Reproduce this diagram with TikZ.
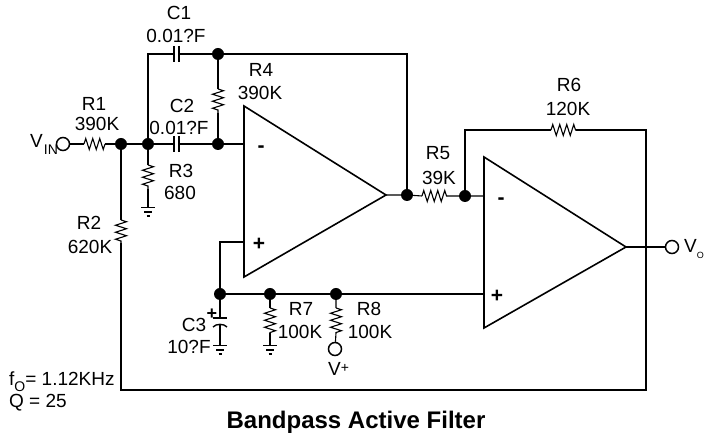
\documentclass[tikz,border=0pt]{standalone}
\usepackage{fontspec}
\setmainfont{Liberation Sans}
\usetikzlibrary{decorations.pathmorphing,calc}
\newcommand{\sbs}[2]{\raisebox{#1pt}{\fontsize{14}{14}\selectfont #2}}
\tikzset{
  x=1pt,y=-1pt,
  wire/.style={line width=1.1pt,line join=miter},
  amp/.style={line width=1.6pt,line join=miter},
  resistor/.style={line width=1.1pt,decorate,decoration={zigzag,amplitude=5.5pt,segment length=7pt}},
  dot/.style={circle,fill=black,inner sep=0pt,minimum size=12pt},
  term/.style={circle,draw=black,fill=white,line width=1.5pt,inner sep=0pt,minimum size=13pt},
  lbl/.style={font=\fontsize{19}{21}\selectfont,inner sep=0pt,align=center},
  sgn/.style={font=\bfseries\fontsize{21}{22}\selectfont,inner sep=0pt},
  plate/.style={line width=1.4pt},
}
\begin{document}
\begin{tikzpicture}
\useasboundingbox (0,0) rectangle (705,435);
% junctions
\node[dot] (jt) at (218,54) {};
\node[dot] (jm) at (218,144) {};
\node[dot] (j1) at (121,144) {};
\node[dot] (j2) at (148,144) {};
\node[dot] (jo) at (407,195) {};
\node[dot] (ji) at (465,196) {};
\node[dot] (jp) at (220,294) {};
\node[dot] (j7) at (270,294) {};
\node[dot] (j8) at (336,294) {};
% terminals
\node[term] (vin) at (63,144) {};
\node[term] (vout) at (672,247) {};
\node[term] (vp) at (335,349) {};
% op amps
\coordinate (a1t) at (244,106); \coordinate (a1b) at (244,277); \coordinate (a1o) at (386,195);
\coordinate (a1m) at (244,144); \coordinate (a1p) at (244,242);
\coordinate (a2t) at (484,157); \coordinate (a2b) at (484,328); \coordinate (a2o) at (626,247);
\coordinate (a2m) at (484,196); \coordinate (a2p) at (484,294);
\draw[amp,fill=white] (a1t) -- (a1o) -- (a1b) -- cycle;
\draw[amp,fill=white] (a2t) -- (a2o) -- (a2b) -- cycle;
\node[sgn] at (261,149) {-};
\node[sgn] at (259,244) {+};
\node[sgn] at (501,201) {-};
\node[sgn] at (497,296) {+};
% C1 and top wire
\coordinate (ctl) at (148,54);
\coordinate (c1a) at (174,54); \coordinate (c1b) at (179,54);
\coordinate (ctr) at (407,54);
\draw[wire] (j2) -- (ctl) -- (c1a);
\draw[wire] (c1b) -- (jt) -- (ctr) -- (jo);
\draw[plate] (174,46) -- (174,62) (179,46) -- (179,62);
% R4
\coordinate (r4a) at (218,89); \coordinate (r4b) at (218,113);
\draw[wire] (jt) -- (r4a) (r4b) -- (jm);
\draw[resistor] (r4a) -- (r4b);
% input, R1
\coordinate (r1a) at (84,144); \coordinate (r1b) at (105,144);
\draw[wire] (vin) -- (r1a) (r1b) -- (j1) -- (j2);
\draw[resistor] (r1a) -- (r1b);
% C2
\coordinate (c2a) at (174,144); \coordinate (c2b) at (179,144);
\draw[wire] (j2) -- (c2a) (c2b) -- (jm) -- (a1m);
\draw[plate] (174,136) -- (174,152) (179,136) -- (179,152);
% R3 + ground
\coordinate (r3a) at (148,165); \coordinate (r3b) at (148,189); \coordinate (g3) at (148,207);
\draw[wire] (j2) -- (r3a) (r3b) -- (g3);
\draw[resistor] (r3a) -- (r3b);
\draw[wire] (141,207.5) -- (155,207.5) (144,212) -- (152,212) (146.5,216) -- (149.5,216);
% R2 and bottom feedback
\coordinate (r2a) at (121,220); \coordinate (r2b) at (121,243);
\coordinate (bl) at (121,390); \coordinate (br) at (646,390); \coordinate (tr) at (646,130); \coordinate (tl) at (465,130);
\coordinate (r6a) at (551,130); \coordinate (r6b) at (576,130);
\draw[wire] (j1) -- (r2a) (r2b) -- (bl) -- (br) -- (tr) -- (r6b) (r6a) -- (tl) -- (ji);
\draw[resistor] (r2a) -- (r2b);
\draw[resistor] (r6a) -- (r6b);
% R5
\coordinate (r5a) at (422,196); \coordinate (r5b) at (447,196);
\draw[wire] (a1o) -- (jo) -- (r5a) (r5b) -- (ji) -- (a2m);
\draw[resistor] (r5a) -- (r5b);
% output
\draw[wire] (a2o) -- (vout);
% + inputs
\coordinate (pc) at (220,242);
\draw[wire] (a1p) -- (pc) -- (jp) -- (j7) -- (j8) -- (a2p);
% C3
\coordinate (c3a) at (220,318); \coordinate (c3b) at (220,324); \coordinate (g5) at (220,345);
\draw[wire] (jp) -- (c3a) (c3b) -- (g5);
\draw[plate] (213,318) -- (227,318);
\draw[plate] (213,327) .. controls (216,323.5) and (224,323.5) .. (227,327);
\draw[wire] (213,345.5) -- (227,345.5) (216,350) -- (224,350) (218.5,354) -- (221.5,354);
\node[sgn,font=\bfseries\fontsize{18}{18}\selectfont] at (212,314) {+};
% R7
\coordinate (r7a) at (270,308); \coordinate (r7b) at (270,333); \coordinate (g7) at (270,345);
\draw[wire] (j7) -- (r7a) (r7b) -- (g7);
\draw[resistor] (r7a) -- (r7b);
\draw[wire] (263,345.5) -- (277,345.5) (266,350) -- (274,350) (268.5,354) -- (271.5,354);
% R8
\coordinate (r8a) at (336,308); \coordinate (r8b) at (336,333);
\draw[wire] (j8) -- (r8a) (r8b) -- (vp);
\draw[resistor] (r8a) -- (r8b);
% labels
\node[lbl] (lc1) at (179,13) {C1};
\node[lbl] (lc1v) at (176,36) {0.01?F};
\node[lbl] (lr4) at (261,70) {R4};
\node[lbl] (lr4v) at (260,93) {390K};
\node[lbl] (lr1) at (94,104) {R1};
\node[lbl] (lr1v) at (97,124) {390K};
\node[lbl] (lc2) at (182,106) {C2};
\node[lbl] (lc2v) at (179,128) {0.01?F};
\node[lbl] (lr3) at (181,171) {R3};
\node[lbl] (lr3v) at (180,193) {680};
\node[lbl] (lr2) at (89,223) {R2};
\node[lbl] (lr2v) at (90,247) {620K};
\node[lbl] (lr5) at (438,153) {R5};
\node[lbl] (lr5v) at (439,178) {39K};
\node[lbl] (lr6) at (569,85) {R6};
\node[lbl] (lr6v) at (568,109) {120K};
\node[lbl] (lc3) at (194,325) {C3};
\node[lbl] (lc3v) at (189,347) {10?F};
\node[lbl] (lr7) at (301,309) {R7};
\node[lbl] (lr7v) at (300,332) {100K};
\node[lbl] (lr8) at (369,309) {R8};
\node[lbl] (lr8v) at (370,332) {100K};
\node[lbl,anchor=west] (lvin) at (30,144) {V\hspace{1pt}\sbs{-7}{IN}};
\node[lbl,anchor=west] (lvp) at (328,369) {V\sbs{3}{+}};
\node[lbl,anchor=west] (lvo) at (684,249) {V\raisebox{-6pt}{\fontsize{9}{9}\selectfont O}};
\node[lbl,anchor=west] (lf) at (9,382) {f\sbs{-6}{O}= 1.12KHz};
\node[lbl,anchor=west] (lq) at (9,403) {Q = 25};
\node[font=\bfseries\fontsize{24}{26}\selectfont,inner sep=0pt] (title) at (356,422) {Bandpass Active Filter};
\end{tikzpicture}
\end{document}
